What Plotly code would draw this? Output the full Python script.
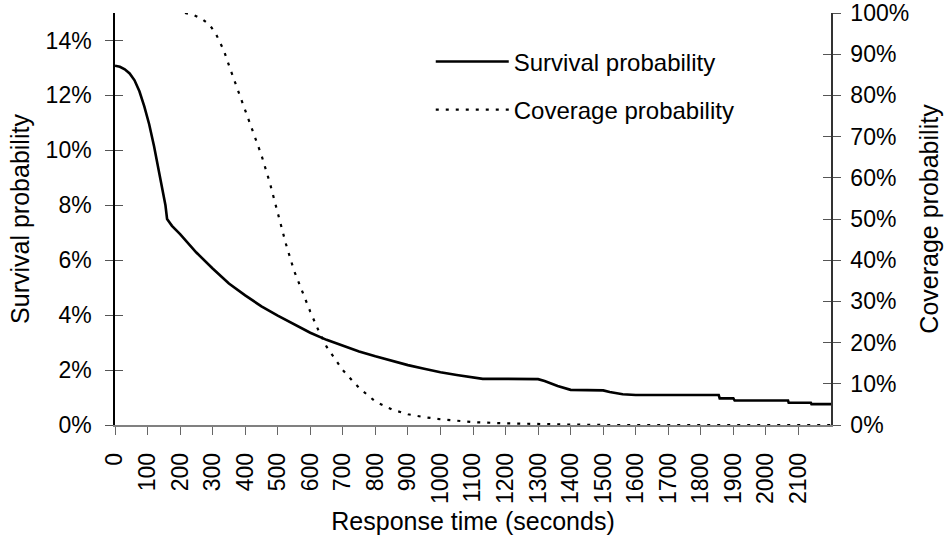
import plotly.graph_objects as go

# ---------------- data ----------------
surv_t = [0, 15, 30, 45, 60, 75, 90, 105, 120, 135, 150, 155, 160, 175, 200, 250, 300, 350, 400, 450,
          500, 550, 600, 650, 700, 750, 800, 850, 900, 950, 1000, 1050, 1100, 1130, 1200, 1300,
          1320, 1360, 1400, 1500, 1520, 1560, 1600, 1700, 1855, 1858, 1900, 1904, 2068, 2070,
          2138, 2140, 2200]
surv_p = [13.08, 13.04, 12.95, 12.8, 12.55, 12.15, 11.6, 10.95, 10.15, 9.2, 8.2, 8.0, 7.5, 7.25, 6.95, 6.28,
          5.7, 5.15, 4.72, 4.32, 3.98, 3.66, 3.36, 3.1, 2.88, 2.68, 2.5, 2.33, 2.18, 2.05, 1.92,
          1.82, 1.72, 1.68, 1.68, 1.67, 1.6, 1.42, 1.28, 1.26, 1.2, 1.12, 1.09, 1.09, 1.09, 0.97,
          0.97, 0.89, 0.89, 0.81, 0.81, 0.76, 0.76]

cov_t = [215, 240, 268, 290, 309, 334, 355, 375, 396, 426, 450, 475, 500, 525, 550, 575, 600, 625,
         650, 700, 750, 800, 850, 900, 950, 1000, 1050, 1100, 1200, 1300, 1400, 1500, 1600, 1700,
         1800, 1900, 2000, 2100, 2200]
cov_p = [100.0, 99.6, 98.5, 97.2, 95.1, 91.0, 86.2, 81.8, 77.3, 70.8, 65.5, 59.0, 51.5, 44.0,
         37.5, 32.5, 27.5, 23.0, 19.0, 13.3, 9.0, 5.7, 3.8, 2.6, 1.9, 1.4, 1.0, 0.7, 0.4, 0.2,
         0.1, 0.0, 0.0, 0.0, 0.0, 0.0, 0.0, 0.0, 0.0]

x_ticks = list(range(0, 2200, 100))
left_ticks = [0, 2, 4, 6, 8, 10, 12, 14]
right_ticks = list(range(0, 101, 10))

FONT = "Liberation Sans, Arial, sans-serif"

fig = go.Figure()
fig.add_trace(go.Scatter(
    x=surv_t, y=[v / 100 for v in surv_p], mode="lines", name="Survival probability",
    line=dict(color="black", width=2.6), yaxis="y", legendgroup="a"))
fig.add_trace(go.Scatter(
    x=cov_t, y=[v / 100 for v in cov_p], mode="lines", name="Coverage probability",
    line=dict(color="black", width=2.2, dash="3px,7px"), yaxis="y2", legendgroup="b"))
# helper empty traces so the tick-overlay axes render
fig.add_trace(go.Scatter(x=[], y=[], yaxis="y3", showlegend=False, hoverinfo="skip"))
fig.add_trace(go.Scatter(x=[], y=[], yaxis="y4", showlegend=False, hoverinfo="skip"))

fig.update_layout(
    width=949, height=537,
    margin=dict(l=115, r=118, t=13, b=112, autoexpand=False),
    paper_bgcolor="white", plot_bgcolor="white",
    font=dict(family=FONT, color="black", size=23),
    showlegend=True,
    legend=dict(x=0.441, y=0.936, xanchor="left", yanchor="top",
                bgcolor="rgba(0,0,0,0)", font=dict(size=24, family=FONT),
                itemwidth=73, tracegroupgap=14),
    xaxis=dict(range=[0, 2200], tickmode="array", tickvals=x_ticks,
               ticktext=[str(v) for v in x_ticks], tickangle=-90,
               ticks="outside", ticklen=8, tickcolor="#666", tickwidth=1,
               ticklabelstandoff=9, automargin=False,
               showline=True, linecolor="#808080", linewidth=1.5,
               showgrid=False, zeroline=False,
               title=dict(text="Response time (seconds)", font=dict(size=25), standoff=9)),
    yaxis=dict(range=[0, 0.15], tickmode="array", tickvals=[v / 100 for v in left_ticks],
               ticktext=[f"{v}%" for v in left_ticks],
               ticks="outside", ticklen=8, tickcolor="#555", tickwidth=1,
               ticklabelstandoff=9, automargin=False,
               showline=True, linecolor="black", linewidth=1.5,
               showgrid=False, zeroline=False,
               title=dict(text="Survival probability", font=dict(size=25), standoff=9)),
    yaxis2=dict(range=[0, 1], overlaying="y", side="right", anchor="x",
                tickmode="array", tickvals=[v / 100 for v in right_ticks],
                ticktext=[f"{v}%" for v in right_ticks],
                ticks="outside", ticklen=8, tickcolor="#555", tickwidth=1,
                ticklabelstandoff=5, automargin=False,
                showline=True, linecolor="#333", linewidth=1.5,
                showgrid=False, zeroline=False,
                title=dict(text="Coverage probability", font=dict(size=25), standoff=12)),
    yaxis3=dict(range=[0, 0.15], overlaying="y", side="left", anchor="x",
                tickmode="array", tickvals=[v / 100 for v in left_ticks],
                ticks="inside", ticklen=8, tickcolor="#555", tickwidth=1, automargin=False,
                showticklabels=False, showline=False, showgrid=False, zeroline=False),
    yaxis4=dict(range=[0, 1], overlaying="y", side="right", anchor="x",
                tickmode="array", tickvals=[v / 100 for v in right_ticks],
                ticks="inside", ticklen=8, tickcolor="#555", tickwidth=1, automargin=False,
                showticklabels=False, showline=False, showgrid=False, zeroline=False),
)

fig.write_html("out.html", config={"displayModeBar": False},
               post_script="document.body.style.margin = '0';")
